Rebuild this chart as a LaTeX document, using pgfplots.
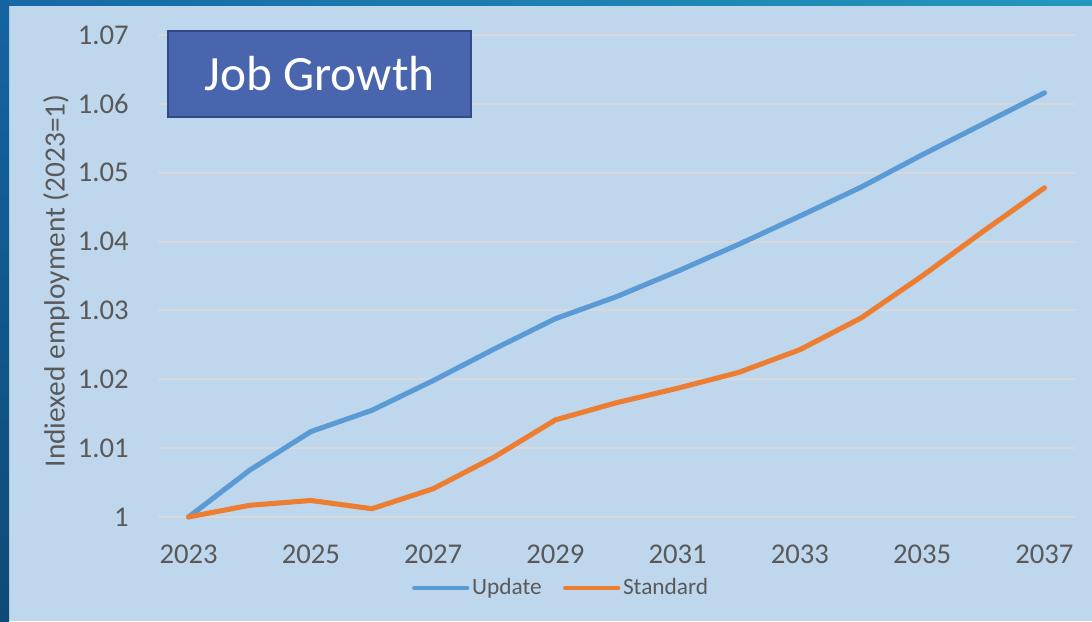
\documentclass[border=0pt]{standalone}
\usepackage{pgfplots}
\pgfplotsset{compat=1.18}
\usepackage{fontspec}
\setmainfont{Carlito}
\definecolor{bgc}{HTML}{BFD7ED}
\definecolor{gridc}{HTML}{D5D9DD}
\definecolor{upc}{HTML}{5B9BD5}
\definecolor{stc}{HTML}{ED7D31}
\definecolor{txt}{HTML}{595959}
\definecolor{boxf}{HTML}{4865AD}
\definecolor{boxd}{HTML}{2F4A87}
\begin{document}
\begin{tikzpicture}
\begin{scope}[x=0.75pt,y=0.75pt]
\fill[bgc] (0,0) rectangle (1092,621);
\shade[left color={rgb,255:red,22;green,104;blue,165}, right color={rgb,255:red,34;green,152;blue,188}] (0,615) rectangle (1092,621);
\shade[top color={rgb,255:red,21;green,100;blue,160}, bottom color={rgb,255:red,14;green,74;blue,120}] (0,0) rectangle (9,621);
\end{scope}
\begin{axis}[
  at={(118.5pt,78pt)}, anchor=south west,
  scale only axis, width=687.75pt, height=361.5pt,
  xmin=2022.5, xmax=2037.5, ymin=1, ymax=1.07,
  clip=false,
  axis line style={draw=none},
  major tick length=0pt,
  xtick={2023,2025,2027,2029,2031,2033,2035,2037},
  xticklabels={2023,2025,2027,2029,2031,2033,2035,2037},
  ytick={1,1.01,1.02,1.03,1.04,1.05,1.06,1.07},
  yticklabels={1,1.01,1.02,1.03,1.04,1.05,1.06,1.07},
  ymajorgrids,
  major grid style={color=gridc, line width=1.5pt},
  tick label style={font=\fontsize{21.5}{24}\selectfont, text=txt},
  yticklabel style={xshift=-18.5pt},
  xticklabel style={yshift=-17.5pt},
  ylabel={Indiexed employment (2023=1)},
  ylabel style={at={(axis description cs:-0.111,0.49)}, anchor=center, font=\fontsize{22}{25}\selectfont, text=txt},
  legend style={at={(axis description cs:0.44,-0.147)}, anchor=center, draw=none, fill=none,
    legend columns=2, font=\fontsize{17.5}{20}\selectfont, text=txt,
    /tikz/every even column/.append style={column sep=14pt}},
  legend image code/.code={\draw[#1, line width=3pt] (0pt,0pt) -- (40pt,0pt);},
]
\addplot[upc, line width=3.8pt, line cap=round, line join=round] coordinates {
(2023,1.0000) (2024,1.0068) (2025,1.0124) (2026,1.0155) (2027,1.0198)
(2028,1.0244) (2029,1.0288) (2030,1.0320) (2031,1.0357) (2032,1.0396)
(2033,1.0437) (2034,1.0479) (2035,1.0526) (2036,1.0571) (2037,1.0616)};
\addlegendentry{Update}
\addplot[stc, line width=3.8pt, line cap=round, line join=round] coordinates {
(2023,1.0000) (2024,1.0017) (2025,1.0024) (2026,1.0012) (2027,1.0041)
(2028,1.0087) (2029,1.0141) (2030,1.0166) (2031,1.0187) (2032,1.0210)
(2033,1.0243) (2034,1.0289) (2035,1.0350) (2036,1.0415) (2037,1.0478)};
\addlegendentry{Standard}
\end{axis}
\node[draw=boxd, line width=1.5pt, fill=boxf, minimum width=227pt, minimum height=64.5pt, inner sep=0pt, text=white, font=\fontsize{37}{40}\selectfont] at (239.625pt,410.25pt) {Job Growth};
\pgfresetboundingbox
\useasboundingbox (0pt,0pt) rectangle (819pt,465.75pt);
\end{tikzpicture}
\end{document}
